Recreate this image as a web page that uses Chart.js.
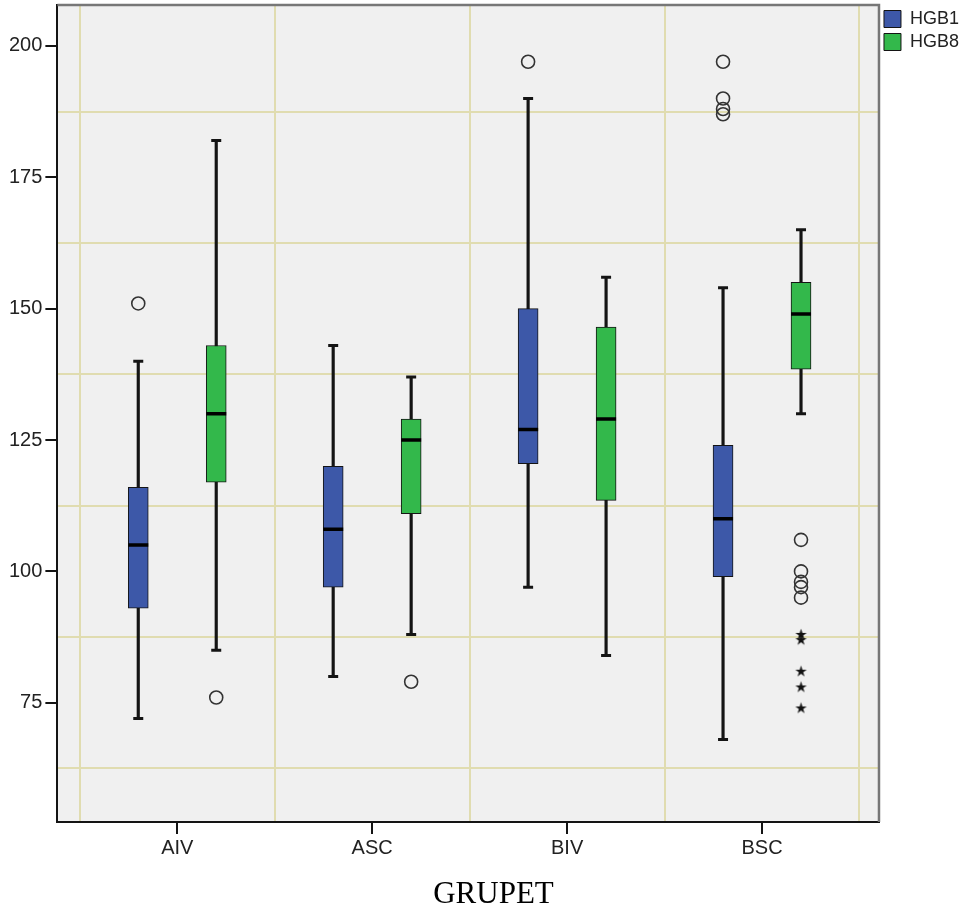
<!DOCTYPE html>
<html>
<head>
<meta charset="utf-8">
<script src="https://cdn.jsdelivr.net/npm/chart.js@4.4.1/dist/chart.umd.min.js"></script>
<style>
  html, body { margin: 0; padding: 0; background: #fff; }
  #wrap { width: 963px; height: 909px; }
</style>
</head>
<body>
<div id="wrap"><canvas id="boxChart"></canvas></div>
<script>
// Box statistics per group
const categories = ['AIV', 'ASC', 'BIV', 'BSC'];

const hgb1Min    = [72, 80, 97, 68];
const hgb1Q1     = [93, 97, 120.5, 99];
const hgb1Median = [105, 108, 127, 110];
const hgb1Q3     = [116, 120, 150, 124];
const hgb1Max    = [140, 143, 190, 154];

const hgb8Min    = [85, 88, 84, 130];
const hgb8Q1     = [117, 111, 113.5, 138.5];
const hgb8Median = [130, 125, 129, 149];
const hgb8Q3     = [143, 129, 146.5, 155];
const hgb8Max    = [182, 137, 156, 165];

// circles = outliers, stars = extreme values
const hgb1Outliers = [[151], [], [197], [197, 190, 188, 187]];
const hgb8Outliers = [[76], [79], [], [106, 100, 98, 97, 95]];
const hgb8Extremes = [[], [], [], [88, 87, 81, 78, 74]];

const yTicks = [75, 100, 125, 150, 175, 200];
const yGrid  = [62.5, 87.5, 112.5, 137.5, 162.5, 187.5];

const blue = '#3d58a8';
const green = '#33b84b';
const ink = '#141414';
const gridColor = '#e0dcb0';
const none = 'rgba(0,0,0,0)';
const shift = 0.2; // how far each box sits from the group centre

function boxData(lo, hi, s) {
    return categories.map((c, i) => ({ x: i + s, y: [lo[i], hi[i]] }));
}
function pointData(vals, s) {
    return categories.map((c, i) => ({ x: i + s, y: vals[i] }));
}
function listData(lists, s) {
    const out = [];
    lists.forEach((list, i) => list.forEach(v => out.push({ x: i + s, y: v })));
    return out;
}

// small star used by SPSS for extreme values
const starImg = document.createElement('canvas');
starImg.width = 13;
starImg.height = 13;
(function () {
    const c = starImg.getContext('2d');
    c.fillStyle = '#111';
    c.beginPath();
    for (let k = 0; k < 10; k++) {
        const r = k % 2 === 0 ? 6 : 2.3;
        const a = -Math.PI / 2 + k * Math.PI / 5;
        c.lineTo(6.5 + r * Math.cos(a), 6.8 + r * Math.sin(a));
    }
    c.closePath();
    c.fill();
})();

const xTickVals = [];
categories.forEach((c, i) => { xTickVals.push(i - 0.5, i); });
xTickVals.push(categories.length - 0.5);

const yTickVals = yGrid.concat(yTicks).sort((a, b) => a - b);

// tick helpers: labelled ticks get a tick mark, the in-between ones get a grid line
const tickVal = c => (c && c.tick) ? c.tick.value : null;
const xIsLabel = c => Number.isInteger(tickVal(c));
const yIsLabel = c => yTicks.includes(tickVal(c));

// plot background, top/right frame and the serif axis title
const spssFrame = {
    id: 'spssFrame',
    beforeDraw(chart) {
        const { ctx, chartArea: a } = chart;
        ctx.save();
        ctx.fillStyle = '#f0f0f0';
        ctx.fillRect(a.left, a.top, a.right - a.left, a.bottom - a.top);
        ctx.restore();
    },
    afterDraw(chart) {
        const { ctx, chartArea: a } = chart;
        ctx.save();
        ctx.strokeStyle = '#777';
        ctx.lineWidth = 2.5;
        ctx.beginPath();
        ctx.moveTo(a.left, a.top);
        ctx.lineTo(a.right, a.top);
        ctx.lineTo(a.right, a.bottom);
        ctx.stroke();
        ctx.fillStyle = '#000';
        ctx.font = '31px "Liberation Serif", "Times New Roman", serif';
        ctx.textAlign = 'center';
        ctx.textBaseline = 'middle';
        ctx.fillText('GRUPET', chart.width / 2 + 12, chart.height - 14);
        ctx.restore();
    }
};

Chart.defaults.font.family = '"Liberation Sans", Arial, sans-serif';
Chart.defaults.color = '#222';

const ctx = document.getElementById('boxChart').getContext('2d');
new Chart(ctx, {
    type: 'bar',
    data: {
        datasets: [
            {
                label: 'HGB1',
                data: boxData(hgb1Q1, hgb1Q3, -shift),
                backgroundColor: blue,
                borderColor: ink,
                borderWidth: 1,
                borderSkipped: false,
                barThickness: 20,
                grouped: false,
                order: 2
            },
            {
                label: 'HGB8',
                data: boxData(hgb8Q1, hgb8Q3, shift),
                backgroundColor: green,
                borderColor: ink,
                borderWidth: 1,
                borderSkipped: false,
                barThickness: 20,
                grouped: false,
                order: 2
            },
            {
                label: 'whisker1',
                data: boxData(hgb1Min, hgb1Max, -shift),
                backgroundColor: ink,
                borderWidth: 0,
                barThickness: 2.5,
                grouped: false,
                order: 4
            },
            {
                label: 'whisker8',
                data: boxData(hgb8Min, hgb8Max, shift),
                backgroundColor: ink,
                borderWidth: 0,
                barThickness: 2.5,
                grouped: false,
                order: 4
            },
            {
                type: 'scatter',
                label: 'caps1',
                data: pointData(hgb1Min, -shift).concat(pointData(hgb1Max, -shift)),
                pointStyle: 'line',
                pointRadius: 5,
                pointBorderWidth: 3,
                borderColor: ink,
                order: 3
            },
            {
                type: 'scatter',
                label: 'caps8',
                data: pointData(hgb8Min, shift).concat(pointData(hgb8Max, shift)),
                pointStyle: 'line',
                pointRadius: 5,
                pointBorderWidth: 3,
                borderColor: ink,
                order: 3
            },
            {
                type: 'scatter',
                label: 'median1',
                data: pointData(hgb1Median, -shift),
                pointStyle: 'line',
                pointRadius: 10,
                pointBorderWidth: 3.5,
                borderColor: '#000',
                order: 1
            },
            {
                type: 'scatter',
                label: 'median8',
                data: pointData(hgb8Median, shift),
                pointStyle: 'line',
                pointRadius: 10,
                pointBorderWidth: 3.5,
                borderColor: '#000',
                order: 1
            },
            {
                type: 'scatter',
                label: 'out1',
                data: listData(hgb1Outliers, -shift),
                pointStyle: 'circle',
                pointRadius: 6.5,
                pointBorderWidth: 1.6,
                borderColor: '#333',
                backgroundColor: none,
                order: 0
            },
            {
                type: 'scatter',
                label: 'out8',
                data: listData(hgb8Outliers, shift),
                pointStyle: 'circle',
                pointRadius: 6.5,
                pointBorderWidth: 1.6,
                borderColor: '#333',
                backgroundColor: none,
                order: 0
            },
            {
                type: 'scatter',
                label: 'extreme8',
                data: listData(hgb8Extremes, shift),
                pointStyle: starImg,
                order: 0
            }
        ]
    },
    options: {
        responsive: true,
        maintainAspectRatio: false,
        animation: false,
        layout: { autoPadding: false, padding: { left: 6, top: 5, right: -6, bottom: 47 } },
        scales: {
            x: {
                type: 'linear',
                offset: false,
                min: -0.615,
                max: 3.6,
                afterBuildTicks: scale => { scale.ticks = xTickVals.map(v => ({ value: v })); },
                ticks: {
                    autoSkip: false,
                    maxRotation: 0,
                    padding: 2,
                    font: { size: 20 },
                    color: '#222',
                    callback: v => Number.isInteger(v) ? categories[v] : ''
                },
                grid: {
                    offset: false,
                    color: c => xIsLabel(c) ? none : gridColor,
                    lineWidth: 2,
                    tickLength: 12,
                    tickWidth: 2,
                    tickColor: c => xIsLabel(c) ? ink : none
                },
                border: { color: ink, width: 2 }
            },
            y: {
                min: 52.3,
                max: 207.8,
                afterBuildTicks: scale => { scale.ticks = yTickVals.map(v => ({ value: v })); },
                // the top label sits well inside the plot, so no extra room is needed above it
                afterFit: scale => { scale.paddingTop = 0; },
                ticks: {
                    autoSkip: false,
                    padding: 3,
                    font: { size: 20 },
                    color: '#222',
                    callback: v => yTicks.includes(v) ? String(v) : ''
                },
                grid: {
                    color: c => yIsLabel(c) ? none : gridColor,
                    lineWidth: 2,
                    tickLength: 12,
                    tickWidth: 2,
                    tickColor: c => yIsLabel(c) ? ink : none
                },
                border: { color: ink, width: 2 }
            }
        },
        plugins: {
            legend: {
                position: 'right',
                align: 'start',
                labels: {
                    boxWidth: 17,
                    boxHeight: 17,
                    padding: 5,
                    font: { size: 18 },
                    color: '#222',
                    filter: item => item.datasetIndex < 2
                }
            },
            tooltip: { enabled: false }
        }
    },
    plugins: [spssFrame]
});
</script>
</body>
</html>
